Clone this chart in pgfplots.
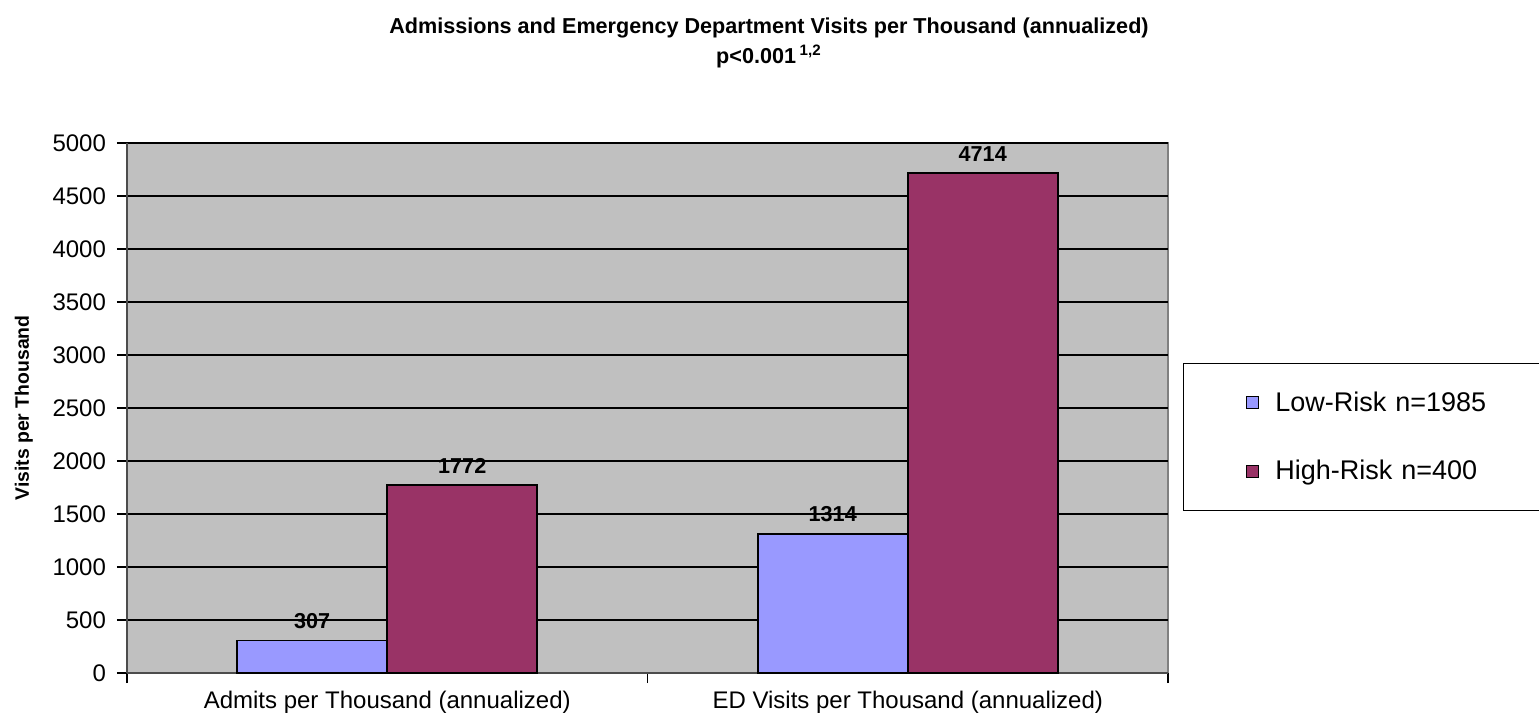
\documentclass[border=0pt]{standalone}
\usepackage{fontspec}
\setmainfont{Liberation Sans}
\usepackage{pgfplots}
\pgfplotsset{compat=1.18}
\definecolor{lowrisk}{HTML}{9999FF}
\definecolor{highrisk}{HTML}{993366}
\definecolor{plotbg}{HTML}{C0C0C0}
% square legend swatch with extra room before the entry text
\pgfplotsset{box legend/.style={legend image code/.code={%
  \path (0pt,0pt) (13pt,0pt);
  \draw[##1, line width=0.6pt] (1pt,-3pt) rectangle (7pt,3pt);}}}

\begin{document}
\begin{tikzpicture}
\useasboundingbox (-63.5pt,-23pt) rectangle (706pt,336.5pt);
\begin{axis}[
  at={(0,0)}, anchor=south west,
  scale only axis, width=520.5pt, height=265pt,
  clip=false,
  ybar=0pt, bar width=75pt,
  xmin=-0.5, xmax=1.5, ymin=0, ymax=5000,
  ytick={0,500,...,5000},
  xtick={-0.5,0.5,1.5}, xticklabels={},
  extra x ticks={0,1},
  extra x tick labels={Admits per Thousand (annualized), ED Visits per Thousand (annualized)},
  extra x tick style={major tick length=0pt, xticklabel style={yshift=-5.5pt}},
  axis lines*=left,
  axis line style={black!70, line width=1pt},
  axis background/.style={fill=plotbg, draw=gray, line width=1pt},
  ymajorgrids, grid style={black, line width=0.6pt},
  tick align=outside, major tick length=5pt,
  tick style={black, line width=0.6pt},
  /pgf/number format/assume math mode=true,
  /pgf/number format/set thousands separator={},
  ticklabel style={font=\fontsize{12}{14}\selectfont},
  yticklabel style={xshift=-2pt},
  ylabel={Visits per Thousand},
  ylabel style={at={(axis description cs:-0.099,0.5)}, anchor=center,
    font=\bfseries\fontsize{9.7}{11}\selectfont},
  title={Admissions and Emergency Department Visits per Thousand (annualized)\\[2.5pt]p<0.001\,\textsuperscript{1,2}},
  title style={at={(axis description cs:0.6167,1.2)}, anchor=center, align=center,
    yshift=-9pt, font=\bfseries\fontsize{10.8}{12.5}\selectfont},
  nodes near coords,
  every node near coord/.append style={font=\bfseries\fontsize{10.8}{12}\selectfont,
    text=black, yshift=2pt},
  legend style={at={(rel axis cs:1.0144,0.585)}, anchor=north west,
    draw=black, line width=0.6pt, fill=white,
    inner xsep=30pt, inner ysep=12pt, row sep=19pt,
    font=\fontsize{13.5}{15}\selectfont,
    text width=150pt},
  legend cell align=left,
]
\addplot[fill=lowrisk, draw=black, line width=0.9pt, box legend]
  coordinates {(0,307) (1,1314)};
\addplot[fill=highrisk, draw=black, line width=0.9pt, box legend]
  coordinates {(0,1772) (1,4714)};
\legend{Low-Risk n=1985, High-Risk n=400}
\end{axis}
\end{tikzpicture}
\end{document}
